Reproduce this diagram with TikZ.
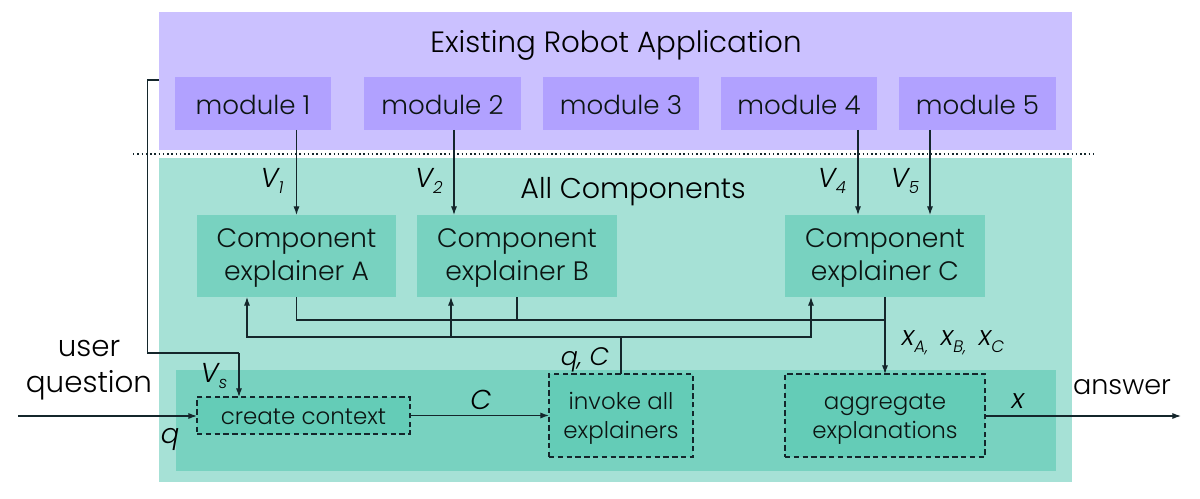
\documentclass[tikz,border=0pt]{standalone}
\usepackage{fontspec}
\setmainfont{Poppins Light}[ItalicFont={Poppins Light Italic}]
\usetikzlibrary{arrows.meta}
\definecolor{purpbg}{HTML}{CBC1FF}
\definecolor{purpbox}{HTML}{B1A1FF}
\definecolor{greenbg}{HTML}{A6E1D6}
\definecolor{greenbox}{HTML}{78D2C0}
\definecolor{greendash}{HTML}{64CCB7}
\definecolor{ink}{HTML}{14262B}
\newcommand\tshift{0pt}
\newcommand\pbox[7]{\node[#1, minimum width={(#5-#3)*0.75pt}, minimum height={(#6-#4)*0.75pt}] (#2) at ({(#3+#5)/2},{(#4+#6)/2}) {\raisebox{\tshift}[\height][\depth]{\begin{tabular}{@{}c@{}}#7\end{tabular}}};}
\newcommand\sz[1]{\fontsize{#1}{#1}\selectfont}
\newcommand\sub[1]{\raisebox{-5pt}{\sz{12.5}#1}}
\tikzset{
  x=0.75pt,y=-0.75pt,
  base/.style={inner sep=0pt,outer sep=0pt,text=black!90!greenbox},
  panel/.style={base,fill=#1},
  modbox/.style={base,fill=purpbox,font=\fontsize{19.6}{25}\selectfont,execute at begin node={\def\tshift{-3pt}}},
  expbox/.style={base,fill=greenbox,font=\fontsize{20}{24.75}\selectfont,execute at begin node={\def\tshift{-0.75pt}}},
  stepbox/.style={base,fill=greendash,draw=ink,line width=0.85pt,dash pattern=on 4pt off 2.6pt,font=\fontsize{17.2}{22}\selectfont,execute at begin node={\def\tshift{-2pt}}},
  wire/.style={draw=ink,line width=0.85pt},
  arr/.style={wire,-{Latex[length=6.5pt,width=4.6pt]}},
  lab/.style={inner sep=0pt,outer sep=0pt,text=black,font=\fontsize{20.5}{20}\selectfont\itshape},
  title/.style={inner sep=0pt,outer sep=0pt,text=black,align=center,font=\fontsize{22}{27.2}\selectfont},
}
\begin{document}
\begin{tikzpicture}
\path[use as bounding box] (0,0) rectangle (1200,499);
\pbox{panel=purpbg}{appbg}{159}{12}{1072}{150}{}
\pbox{panel=greenbg}{compbg}{159}{158}{1072}{482}{}
\pbox{panel=greenbox}{band}{176}{370}{1056}{471}{}
\pbox{modbox}{mod1}{175}{77}{331}{130}{module 1}
\pbox{modbox}{mod2}{364}{77}{521}{130}{module 2}
\pbox{modbox}{mod3}{543}{77}{699}{130}{module 3}
\pbox{modbox}{mod4}{721}{77}{877}{130}{module 4}
\pbox{modbox}{mod5}{899}{77}{1056}{130}{module 5}
\pbox{expbox}{exA}{197}{215}{396}{297}{Component\\explainer A}
\pbox{expbox}{exB}{417}{215}{617}{297}{Component\\explainer B}
\pbox{expbox}{exC}{785}{215}{985}{297}{Component\\explainer C}
\pbox{stepbox}{ctx}{197}{397}{410}{434}{create context}
\pbox{stepbox}{inv}{549}{374}{693}{457}{invoke all\\explainers}
\pbox{stepbox}{agg}{785}{374}{985}{457}{aggregate\\explanations}
% free ends and junctions
\coordinate (lineS) at (147.5,353);
\coordinate (lineT) at (147.5,80);
\coordinate (vsTop) at (239,353);
\coordinate (inQ) at (18,416);
\coordinate (outX) at (1181,416);
\coordinate (dotL) at (133,154);
\coordinate (dotR) at (1096,154);
\coordinate (collect) at (885,320);
\coordinate (dist) at (621,337);
\coordinate (v2a) at (454,130);
\coordinate (v4a) at (858,130);
\coordinate (v5a) at (930,130);
\coordinate (qA) at (247,297);
\coordinate (qB) at (451,297);
\coordinate (qC) at (811,297);
\draw[ink,line width=0.8pt,dash pattern=on 1.1pt off 2.1pt] (dotL) -- (dotR);
% module to explainer
\draw[arr] (exA.north |- mod1.south) -- (exA.north);
\draw[arr] (v2a) -- (v2a |- exB.north);
\draw[arr] (v4a) -- (v4a |- exC.north);
\draw[arr] (v5a) -- (v5a |- exC.north);
% explainer outputs
\draw[wire] (exA.south) |- (collect);
\draw[wire] (exB.south) -- (exB.south |- collect);
\draw[arr] (exC.south) -- (agg.north);
% distribution
\draw[wire] (inv.north -| dist) -- (dist);
\draw[arr] (dist) -| (qA);
\draw[arr] (qB |- dist) -- (qB);
\draw[arr] (dist) -| (qC);
% state line
\draw[wire] (appbg.west |- lineT) -- (lineT) -- (lineS) -- (vsTop);
\draw[arr] (vsTop) -- (vsTop |- ctx.north);
% main flow
\draw[arr] (inQ) -- (inQ -| ctx.west);
\draw[arr] (ctx.east) -- (inv.west |- ctx.east);
\draw[arr] (agg.east |- outX) -- (outX);
% titles
\node[title] (t1) at (616,45) {Existing Robot Application};
\node[title,font=\fontsize{21.4}{27}\selectfont] (t2) at (633,192) {All Components};
\node[title] (t3) at (89,370) {user\\question};
\node[title,font=\fontsize{20.3}{27}\selectfont] (t4) at (1122,387) {answer};
% labels
\node[lab] (l1) at (272,181) {V\sub{1}};
\node[lab] (l2) at (429,181) {V\sub{2}};
\node[lab] (l4) at (832,181) {V\sub{4}};
\node[lab] (l5) at (905,181) {V\sub{5}};
\node[lab] (ls) at (214,376) {V\sub{s}};
\node[lab] (lq) at (170,439) {q};
\node[lab] (lc) at (481,400) {C};
\node[lab,font=\fontsize{19}{20}\selectfont\itshape] (lqc) at (585,360) {q, C};
\node[lab] (lx) at (1018,401) {x};
\node[lab] (lxs) at (953,343) {x\sub{A,}\, x\sub{B,}\, x\sub{C}};
\end{tikzpicture}
\end{document}
